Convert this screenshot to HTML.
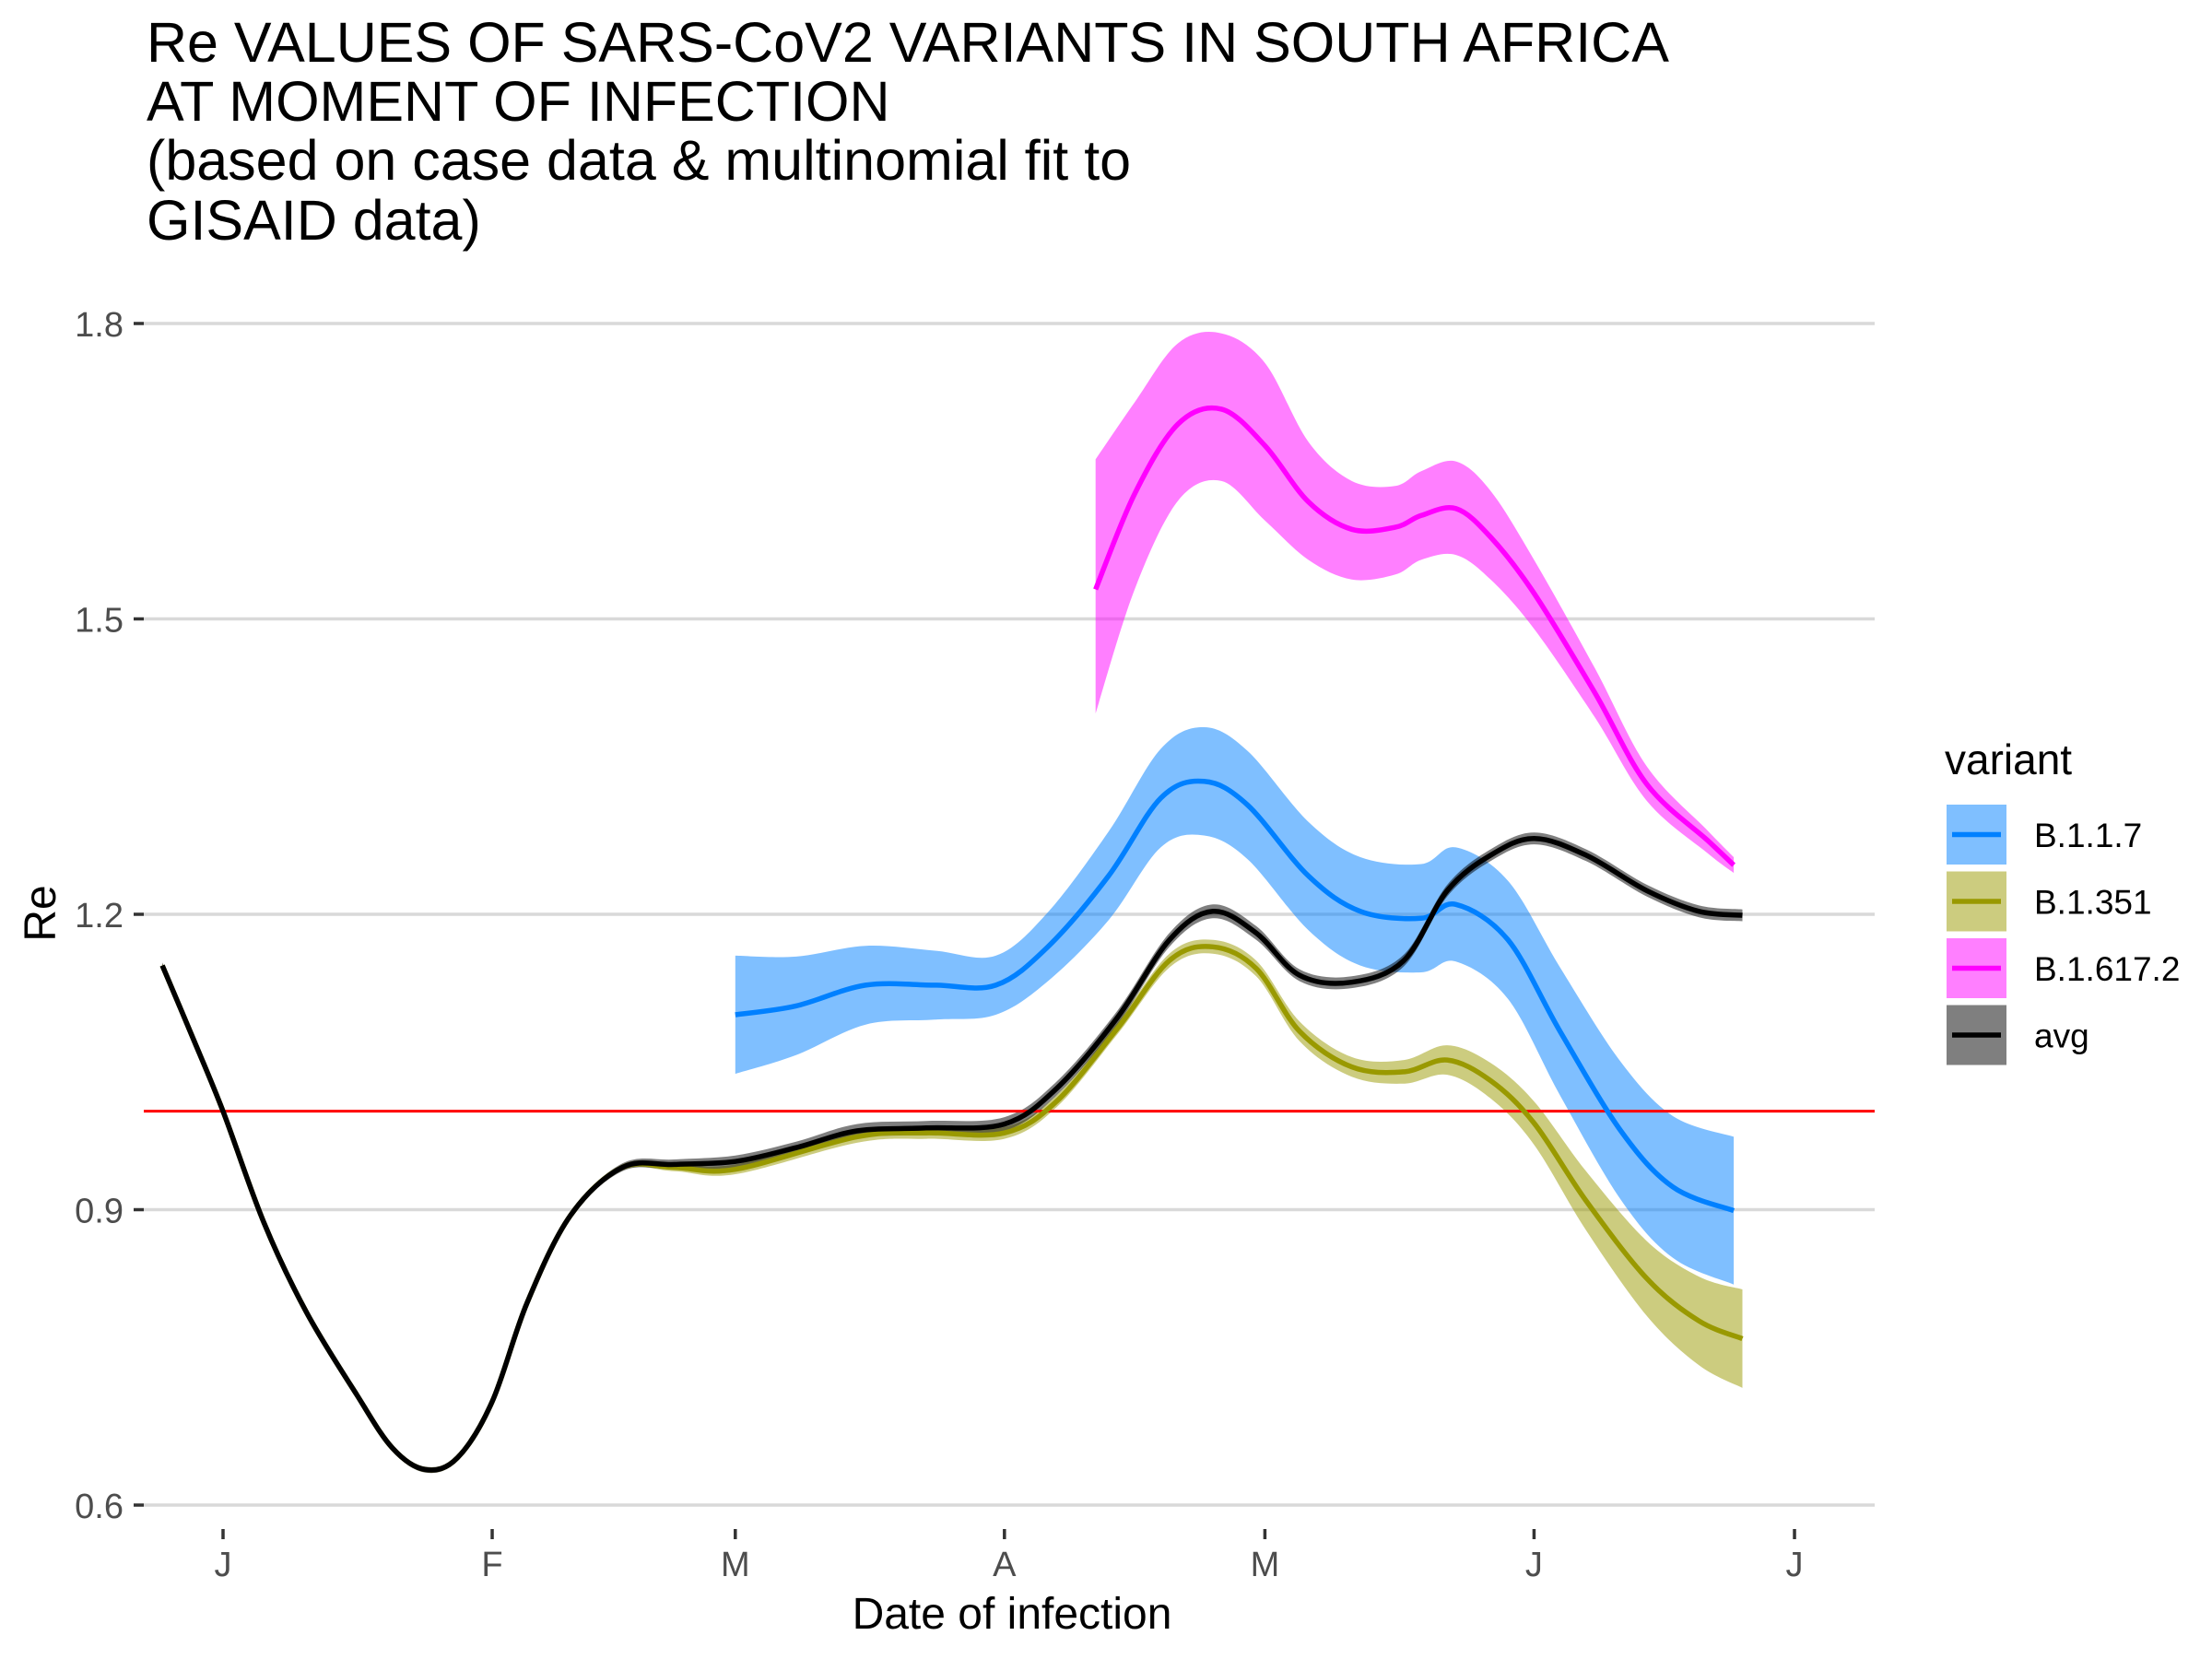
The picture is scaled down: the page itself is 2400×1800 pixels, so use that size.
<!DOCTYPE html>
<html><head><meta charset="utf-8"><style>
html,body{margin:0;padding:0;background:#fff;}
svg{display:block;font-family:"Liberation Sans",Arial,sans-serif;}
</style></head><body>
<svg id="chart" width="2400" height="1800" viewBox="0 0 2400 1800" xmlns="http://www.w3.org/2000/svg">
<g font-size="61" fill="#000">
<text x="159" y="67">Re VALUES OF SARS-CoV2 VARIANTS IN SOUTH AFRICA</text>
<text x="159" y="131">AT MOMENT OF INFECTION</text>
<text x="159" y="195">(based on case data &amp; multinomial fit to</text>
<text x="159" y="260">GISAID data)</text>
</g>
<g id="grid"></g>
<g id="yaxis"></g>
<g id="xaxis"></g>
<g id="ribbons"></g>
<g id="refline"></g>
<g id="lines"></g>
<text x="1098" y="1767" font-size="48" text-anchor="middle">Date of infection</text>
<text transform="translate(60,991) rotate(-90)" font-size="48" text-anchor="middle">Re</text>
<g id="legend">
<text x="2110" y="840" font-size="46">variant</text>
</g>
</svg>
<script>
const yTicks = [0.6, 0.9, 1.2, 1.5, 1.8];
const yTickLabels = ["0.6", "0.9", "1.2", "1.5", "1.8"];
const xTickDays = [0, 31, 59, 90, 120, 151, 181];
const xTickLabels = ["J", "F", "M", "A", "M", "J", "J"];
const refValue = 1.0;

const avgDays = [-7,-3.5,0,4.7,9.6,15.4,19.5,23.3,27,31,35,40,46,52,59,66,73,81,90,96,103,109,114,119,124,130,136,141,146,151,157,164,170,175];
const avgMid = [1.148,1.075,1.0,0.887,0.796,0.712,0.658,0.636,0.648,0.705,0.805,0.894,0.943,0.946,0.949,0.963,0.98,0.983,0.987,1.023,1.095,1.174,1.203,1.181,1.138,1.131,1.153,1.224,1.26,1.277,1.26,1.224,1.203,1.199];
const avgHalf = [0.003,0.003,0.003,0.003,0.003,0.003,0.003,0.003,0.003,0.003,0.003,0.003,0.004,0.005,0.006,0.006,0.007,0.007,0.007,0.007,0.007,0.007,0.007,0.007,0.006,0.006,0.006,0.006,0.006,0.006,0.006,0.006,0.006,0.006];

const b1351Days = [-7,-3.5,0,4.7,9.6,15.4,19.5,23.3,27,31,35,40,46,52,59,73,81,90,96,103,109,114,119,124,130,136,141,146,151,157,164,170,175];
const b1351Mid = [1.148,1.075,1.0,0.887,0.796,0.712,0.658,0.636,0.648,0.705,0.805,0.894,0.943,0.943,0.941,0.974,0.978,0.978,1.01,1.084,1.153,1.167,1.145,1.081,1.045,1.04,1.052,1.031,0.988,0.909,0.83,0.787,0.769];
const b1351Half = [0.002,0.002,0.002,0.002,0.002,0.002,0.002,0.002,0.002,0.002,0.002,0.002,0.003,0.004,0.005,0.006,0.006,0.006,0.006,0.006,0.007,0.007,0.008,0.01,0.01,0.012,0.015,0.018,0.022,0.03,0.038,0.045,0.05];

const b117Days = [59,66,74,82,89,95,102,108,113,118,125,131,138,142,148,154,161,167,174];
const b117Mid = [1.098,1.107,1.128,1.128,1.128,1.167,1.239,1.318,1.335,1.311,1.239,1.203,1.196,1.21,1.174,1.081,0.98,0.923,0.899];
const b117Half = [0.06,0.05,0.04,0.035,0.03,0.035,0.045,0.05,0.055,0.055,0.055,0.055,0.055,0.058,0.06,0.065,0.07,0.072,0.075];

const b16172Days = [100.5,105,110,115,120,125,130,135,138,142,146,151,158,164,171,174];
const b16172Mid = [1.53,1.627,1.698,1.713,1.676,1.619,1.591,1.593,1.605,1.612,1.583,1.526,1.425,1.332,1.275,1.25];
const b16172Hi = [1.662,1.72,1.78,1.79,1.76,1.68,1.64,1.635,1.65,1.66,1.63,1.56,1.45,1.35,1.285,1.258];
const b16172Lo = [1.404,1.53,1.62,1.64,1.60,1.56,1.54,1.545,1.56,1.565,1.54,1.49,1.40,1.315,1.262,1.242];

const NS = "http://www.w3.org/2000/svg";
const X0 = 156, X1 = 2034;
function xs(d){ return 242 + d * 9.42; }
function ys(v){ return 351 + (1.8 - v) / 1.2 * 1282; }
function mk(tag, attrs, parent){ const e = document.createElementNS(NS, tag); for (const k in attrs) e.setAttribute(k, attrs[k]); parent.appendChild(e); return e; }
function smooth(pts, move){
  let s = (move ? "M" : "L") + pts[0][0].toFixed(1) + "," + pts[0][1].toFixed(1);
  for (let i = 0; i < pts.length - 1; i++){
    const p0 = pts[Math.max(0,i-1)], p1 = pts[i], p2 = pts[i+1], p3 = pts[Math.min(pts.length-1,i+2)];
    const c1x = p1[0] + (p2[0]-p0[0])/6, c1y = p1[1] + (p2[1]-p0[1])/6;
    const c2x = p2[0] - (p3[0]-p1[0])/6, c2y = p2[1] - (p3[1]-p1[1])/6;
    s += "C" + c1x.toFixed(1) + "," + c1y.toFixed(1) + " " + c2x.toFixed(1) + "," + c2y.toFixed(1) + " " + p2[0].toFixed(1) + "," + p2[1].toFixed(1);
  }
  return s;
}
const grid = document.getElementById("grid"), yaxis = document.getElementById("yaxis"), xaxis = document.getElementById("xaxis");
yTicks.forEach((v, i) => {
  const g = mk("line", {x1: X0, x2: X1, y1: ys(v), y2: ys(v), stroke: "#d9d9d9", "stroke-width": 3.5}, grid);
  
  
  const t = mk("line", {x1: 145, x2: 156, y1: ys(v), y2: ys(v), stroke: "#333", "stroke-width": 3.5}, yaxis);
  
  
  const l = mk("text", {x: 134, y: ys(v) + 14, "text-anchor": "end", "font-size": 38, fill: "#4d4d4d"}, yaxis);
  l.textContent = yTickLabels[i];
  
  
});
xTickDays.forEach((d, i) => {
  const t = mk("line", {x1: xs(d), x2: xs(d), y1: 1659, y2: 1670, stroke: "#333", "stroke-width": 3.5}, xaxis);
  
  
  const l = mk("text", {x: xs(d), y: 1710, "text-anchor": "middle", "font-size": 38, fill: "#4d4d4d"}, xaxis);
  l.textContent = xTickLabels[i];
  
  
});
const series = [
  {name: "b1351", days: b1351Days, mid: b1351Mid, lo: b1351Mid.map((v,i)=>v-b1351Half[i]), hi: b1351Mid.map((v,i)=>v+b1351Half[i]), color: "#999900"},
  {name: "b117", days: b117Days, mid: b117Mid, lo: b117Mid.map((v,i)=>v-b117Half[i]), hi: b117Mid.map((v,i)=>v+b117Half[i]), color: "#0080ff"},
  {name: "b16172", days: b16172Days, mid: b16172Mid, lo: b16172Lo, hi: b16172Hi, color: "#ff00ff"},
  {name: "avg", days: avgDays, mid: avgMid, lo: avgMid.map((v,i)=>v-avgHalf[i]), hi: avgMid.map((v,i)=>v+avgHalf[i]), color: "#000000"}
];
const ribbons = document.getElementById("ribbons"), lines = document.getElementById("lines");
series.forEach(s => {
  const hiPts = s.days.map((d,i)=>[xs(d), ys(s.hi[i])]);
  const loPts = s.days.map((d,i)=>[xs(d), ys(s.lo[i])]).reverse();
  const r = mk("path", {d: smooth(hiPts, true) + smooth(loPts, false) + "Z", fill: s.color, "fill-opacity": 0.5, stroke: "none"}, ribbons);
  
  
});
const rl = mk("line", {x1: X0, x2: X1, y1: ys(refValue), y2: ys(refValue), stroke: "#ff0000", "stroke-width": 3}, document.getElementById("refline"));


series.forEach(s => {
  const pts = s.days.map((d,i)=>[xs(d), ys(s.mid[i])]);
  const p = mk("path", {d: smooth(pts, true), fill: "none", stroke: s.color, "stroke-width": 5.5}, lines);
  
  
});
const legendItems = [["B.1.1.7","#0080ff"],["B.1.351","#999900"],["B.1.617.2","#ff00ff"],["avg","#000000"]];
const legend = document.getElementById("legend");
legendItems.forEach((it, i) => {
  const y = 873 + i * 72.5;
  const g = mk("g", {}, legend);
  
  
  mk("rect", {x: 2112, y: y, width: 65, height: 65, fill: it[1], "fill-opacity": 0.5}, g);
  mk("line", {x1: 2118, x2: 2171, y1: y + 32.5, y2: y + 32.5, stroke: it[1], "stroke-width": 5.5}, g);
  const t = mk("text", {x: 2207, y: y + 46, "font-size": 37}, g);
  t.textContent = it[0];
});
</script>
</body></html>
